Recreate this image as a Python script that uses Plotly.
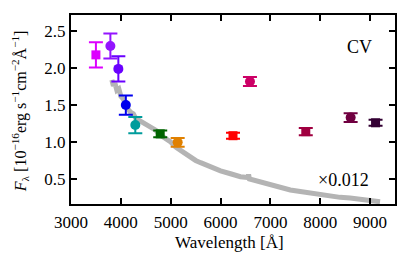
import plotly.graph_objects as go

# Photometric points
wave = [3500, 3790, 3950, 4100, 4290, 4790, 5140, 6250, 6590, 7710, 8610, 9110]
flux = [2.18, 2.30, 1.99, 1.50, 1.23, 1.11, 0.995, 1.085, 1.82, 1.14, 1.33, 1.26]
err = [0.17, 0.17, 0.17, 0.13, 0.11, 0.045, 0.06, 0.04, 0.06, 0.05, 0.06, 0.04]
symbols = ["square", "circle", "circle", "circle", "circle", "square", "circle",
           "square", "circle", "square", "circle", "square"]
colors = ["#dd00ff", "#9414ff", "#6a00ff", "#0000ee", "#009c9c", "#006400",
          "#e08000", "#ff0000", "#cc0066", "#a00040", "#700040", "#330033"]

# Scaled spectrum (x0.012)
spec_wave = [3820, 3850, 3880, 3920, 3960, 4000, 4050, 4100, 4150, 4200, 4250, 4300,
             4350, 4400, 4450, 4500, 4600, 4700, 4800, 4900, 5000, 5100, 5200, 5300,
             5400, 5500, 5600, 5800, 6000, 6200, 6400, 6550, 6563, 6580, 6800, 7000,
             7200, 7400, 7600, 7800, 8000, 8200, 8400, 8600, 8800, 9000, 9200]
spec_flux = [1.84, 1.76, 1.80, 1.70, 1.72, 1.62, 1.58, 1.50, 1.44, 1.40, 1.38, 1.32,
             1.30, 1.28, 1.27, 1.24, 1.20, 1.16, 1.09, 1.05, 1.00, 0.93, 0.88, 0.84,
             0.79, 0.75, 0.72, 0.66, 0.61, 0.57, 0.53, 0.52, 0.56, 0.50, 0.46, 0.42,
             0.38, 0.35, 0.33, 0.31, 0.28, 0.27, 0.25, 0.24, 0.22, 0.21, 0.19]

FONT = "Liberation Serif, Times New Roman, DejaVu Serif, serif"

fig = go.Figure()
fig.add_trace(go.Scatter(x=spec_wave, y=spec_flux, mode="lines",
                         line=dict(color="#b4b4b4", width=5), showlegend=False))
for w, f, e, s, c in zip(wave, flux, err, symbols, colors):
    fig.add_trace(go.Scatter(
        x=[w], y=[f], mode="markers",
        marker=dict(symbol=s, size=10 if s == "circle" else 9, color=c),
        error_y=dict(type="data", array=[e], color=c, thickness=2, width=7),
        showlegend=False))

axis_common = dict(showline=True, linecolor="black", linewidth=2, mirror="ticks",
                   ticks="inside", ticklen=6, tickwidth=1.5, tickcolor="black",
                   showgrid=False, zeroline=False,
                   tickfont=dict(family=FONT, size=17, color="black"))

fig.update_xaxes(range=[3000, 9500], tickvals=[3000, 4000, 5000, 6000, 7000, 8000, 9000],
                 ticklabelstandoff=2, **axis_common)
fig.update_yaxes(range=[0.16, 2.72], tickvals=[0.5, 1.0, 1.5, 2.0, 2.5],
                 ticktext=["0.5", "1.0", "1.5", "2.0", "2.5"], **axis_common)

fig.add_annotation(x=-0.155, y=0.49, xref="paper", yref="paper", textangle=-90,
                   xanchor="center", yanchor="middle", showarrow=False,
                   text="<i>F</i><sub>λ</sub> [10<sup>−16</sup>erg s<sup>−1</sup>cm<sup>−2</sup>Å<sup>−1</sup>]",
                   font=dict(family=FONT, size=16, color="black"))
fig.add_annotation(x=0.49, y=-0.205, xref="paper", yref="paper", showarrow=False,
                   xanchor="center", yanchor="middle",
                   text="Wavelength [Å]", font=dict(family=FONT, size=17, color="black"))
fig.add_annotation(x=0.89, y=0.83, xref="paper", yref="paper", showarrow=False,
                   xanchor="center", yanchor="middle",
                   text="CV", font=dict(family=FONT, size=18, color="black"))
fig.add_annotation(x=0.84, y=0.125, xref="paper", yref="paper", showarrow=False,
                   xanchor="center", yanchor="middle",
                   text="×0.012", font=dict(family=FONT, size=18, color="black"))

fig.update_layout(width=408, height=249, margin=dict(l=63, r=21, t=5, b=53),
                  plot_bgcolor="white", paper_bgcolor="white")

fig.write_html("out.html")
